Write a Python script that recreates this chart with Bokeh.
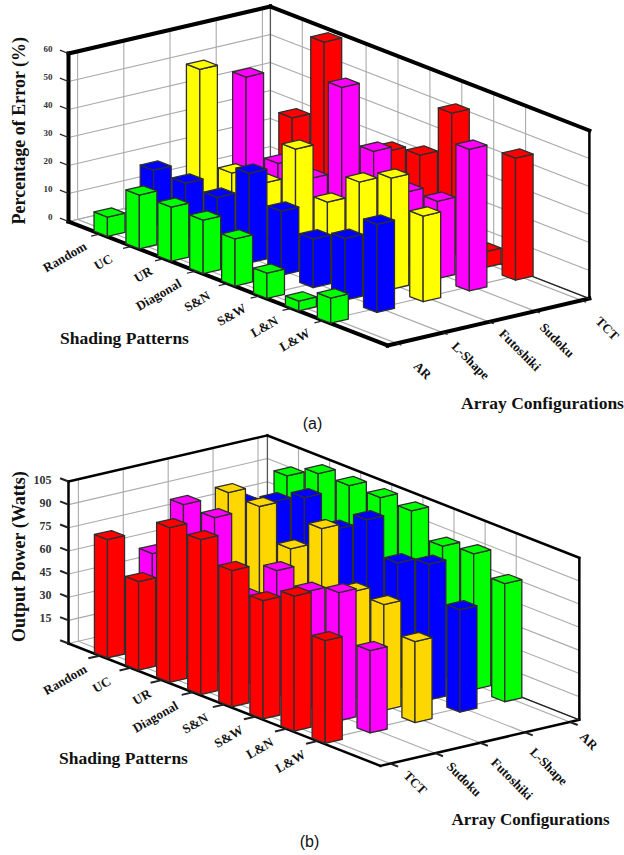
from math import radians
from bokeh.plotting import figure
from bokeh.layouts import column
from bokeh.models import Range1d
from bokeh.core.properties import value
from bokeh.embed import file_html
from bokeh.resources import INLINE

patterns = ["Random", "UC", "UR", "Diagonal", "S&N", "S&W", "L&N", "L&W"]

# (a) Percentage of error
configs_a = ["AR", "L-Shape", "Futoshiki", "Sudoku", "TCT"]
err_ar = [6.9, 19.2, 19.3, 19.1, 16.8, 9.0, 3.5, 9.0]
err_lshape = [19.8, 19.6, 19.0, 32.0, 22.9, 17.4, 22.0, 31.5]
err_futoshiki = [52.0, 19.4, 20.2, 36.8, 22.3, 33.9, 39.7, 30.6]
err_sudoku = [45.4, 19.0, 18.0, 55.0, 36.6, 26.4, 27.6, 50.6]
err_tct = [27.0, 58.5, 18.0, 28.4, 31.4, 50.8, 5.6, 43.6]
err_ticks = [0, 10, 20, 30, 40, 50, 60]

# (b) Output power
configs_b = ["TCT", "Sudoku", "Futoshiki", "L-Shape", "AR"]
pow_tct = [76.7, 57.4, 100.3, 100.4, 88.3, 76.7, 87.5, 66.6]
pow_sudoku = [60.9, 100.6, 100.0, 56.0, 81.5, 76.0, 83.0, 53.4]
pow_futoshiki = [70.0, 101.6, 100.5, 81.0, 102.0, 69.0, 68.6, 52.5]
pow_lshape = [80.0, 89.0, 99.5, 87.0, 101.0, 81.0, 88.0, 66.4]
pow_ar = [91.0, 100.4, 100.6, 100.7, 100.0, 85.0, 88.0, 76.6]
pow_ticks = [15, 30, 45, 60, 75, 90, 105]

TEXT = "#111111"
SERIF = value("Liberation Serif")


def panel(y0, y1, series, colors, configs, ticks, o):
    p = figure(width=624, height=y1 - y0, x_range=Range1d(0, 624), y_range=Range1d(y1, y0),
               x_axis_type=None, y_axis_type=None, toolbar_location=None,
               output_backend="svg", min_border=0, outline_line_color=None)
    p.xgrid.visible = False
    p.ygrid.visible = False

    Lx, Ly = o["L"]
    cx, cy = o["cat"]
    fx, fy = o["cfg"]
    off = o["off"]
    ncat = o["ncat"]
    ncfg = o["ncfg"]
    sc = o["scale"]

    def pt(t, k, v=0.0):
        return (Lx + t * cx + k * fx, Ly + t * cy + k * fy - v * sc)

    vmax = o["vmax"]
    # grid
    gx, gy = [], []

    def seg(a, b):
        gx.append([a[0], b[0]])
        gy.append([a[1], b[1]])

    for i in range(len(patterns)):
        t = i + 1
        seg(pt(t, 0), pt(t, ncfg))
        seg(pt(t, ncfg), pt(t, ncfg, vmax))
    for k in range(len(configs)):
        c = off + k
        seg(pt(0, c), pt(ncat, c))
        seg(pt(0, c), pt(0, c, vmax))
    for v in ticks:
        seg(pt(0, 0, v), pt(0, ncfg, v))
        seg(pt(0, ncfg, v), pt(ncat, ncfg, v))
    seg(pt(0, 0), pt(0, ncfg))
    seg(pt(0, ncfg), pt(ncat, ncfg))
    p.multi_line(gx, gy, line_color="#aaaaaa", line_width=o["gridw"])
    p.multi_line([[pt(0, ncfg)[0], pt(0, ncfg, vmax)[0]]], [[pt(0, ncfg)[1], pt(0, ncfg, vmax)[1]]],
                 line_color="#555555", line_width=1.3)

    # frame
    fw = o["framew"]
    frame = [
        (pt(0, 0, vmax), pt(0, 0)), (pt(0, 0), pt(ncat, 0)), (pt(ncat, 0), pt(ncat, ncfg)),
        (pt(0, 0, vmax), pt(0, ncfg, vmax)), (pt(0, ncfg, vmax), pt(ncat, ncfg, vmax)),
    ]
    p.multi_line([[a[0], b[0]] for a, b in frame], [[a[1], b[1]] for a, b in frame],
                 line_color="black", line_width=fw, line_cap="square")
    p.multi_line([[pt(ncat, ncfg, vmax)[0], pt(ncat, ncfg)[0]]], [[pt(ncat, ncfg, vmax)[1], pt(ncat, ncfg)[1]]],
                 line_color="black", line_width=o["rightw"])
    # back edge of the floor to the right wall
    p.multi_line([[pt(0, ncfg)[0], pt(ncat, ncfg)[0]]], [[pt(0, ncfg)[1], pt(ncat, ncfg)[1]]],
                 line_color="#222222", line_width=1.3)

    # ticks
    tx, ty = [], []
    for i in range(len(patterns)):
        a = pt(i + 1, 0)
        b = pt(i + 1, -o["tick_cat"])
        tx.append([a[0], b[0]])
        ty.append([a[1], b[1]])
    for k in range(len(configs)):
        a = pt(ncat, off + k)
        b = pt(ncat + o["tick_cfg"], off + k)
        tx.append([a[0], b[0]])
        ty.append([a[1], b[1]])
    for v in ticks + ([0] if 0 not in ticks else []):
        a = pt(0, 0, v)
        b = pt(-0.27, 0, v)
        tx.append([a[0], b[0]])
        ty.append([a[1], b[1]])
    p.multi_line(tx, ty, line_color="#222222", line_width=o["tickw"])

    # bars, painted from the back towards the viewer
    hc, hf = o["half_cat"], o["half_cfg"]
    xs, ys, fc = [], [], []
    for k in range(len(series) - 1, -1, -1):
        for i in range(len(patterns)):
            v = series[k][i]
            t, c = i + 1, off + k
            lft = (t + hc, c - hf)   # front vertex
            left = (t - hc, c - hf)
            right = (t + hc, c + hf)
            back = (t - hc, c + hf)
            for a, b in ([left, lft], [lft, right]):
                q = [pt(*a), pt(*b), pt(*b, v), pt(*a, v)]
                xs.append([e[0] for e in q])
                ys.append([e[1] for e in q])
                fc.append(colors[k])
            q = [pt(*left, v), pt(*lft, v), pt(*right, v), pt(*back, v)]
            xs.append([e[0] for e in q])
            ys.append([e[1] for e in q])
            fc.append(colors[k])
    p.patches(xs, ys, fill_color=fc, line_color="#2e2e2e", line_width=1.3, line_join="round")

    # value tick labels
    lab = [pt(0, 0, v) for v in ticks]
    p.text([o["val_x"]] * len(ticks), [e[1] + o["val_dy"] for e in lab], text=[str(v) for v in ticks],
           text_align="right", text_baseline="middle", text_font=SERIF, text_font_style="bold",
           text_font_size=o["val_size"], text_color="#333333")

    # category labels
    cpos = [pt(i + 1, 0) for i in range(len(patterns))]
    clx = [e[0] + d[0] for e, d in zip(cpos, o["cat_lab"])]
    cly = [e[1] + d[1] for e, d in zip(cpos, o["cat_lab"])]
    p.text(clx, cly, text=patterns,
           angle=radians(30), text_align="right", text_baseline="middle", text_font=SERIF,
           text_font_style="bold", text_font_size=o["lab_size"], text_color=TEXT)
    # configuration labels
    kpos = [pt(ncat, off + k) for k in range(len(configs))]
    p.text([e[0] + d[0] for e, d in zip(kpos, o["cfg_lab"])], [e[1] + d[1] for e, d in zip(kpos, o["cfg_lab"])],
           text=configs, angle=radians(-45), text_align="center", text_baseline="middle", text_font=SERIF,
           text_font_style="bold", text_font_size=o["lab_size"], text_color=TEXT)

    # titles
    def title(x, y, s, size, ang=0.0, font=SERIF, style="bold"):
        p.text([x], [y], text=[s], angle=radians(ang), text_align="center", text_baseline="middle",
               text_font=font, text_font_style=style, text_font_size=size, text_color=TEXT)

    title(*o["ylabel"], size=o["ysize"], ang=90)
    title(*o["xlabel"], size="17.5px")
    title(*o["zlabel"], size=o["zsize"])
    title(*o["caption"], size="16px", font=value("Liberation Sans"), style="normal")
    return p


fa = panel(0, 432, [err_ar, err_lshape, err_futoshiki, err_sudoku, err_tct],
           ["#00ff00", "#0000ff", "#ffff00", "#ff00ff", "#ff0000"], configs_a, err_ticks,
           dict(L=(68, 221), cat=(31.9, 12.4), cfg=(46.2, -10.75), off=0.197, ncat=10.0, ncfg=4.37,
                scale=2.8, vmax=60, half_cat=0.21, half_cfg=0.19, framew=4, rightw=2.5, gridw=1.1,
                tickw=1.2, tick_cat=0.2, tick_cfg=0.15, val_x=52, val_dy=-5, val_size="9px", lab_size="13px",
                cat_lab=[(-15, 11), (-21, 11), (-13, 11), (-16, 11), (-19, 11), (-15, 11), (-15, 11), (-15, 11)],
                cfg_lab=[(26, 27), (28, 28), (31, 28), (22, 29), (26, 28)],
                ylabel=(18.5, 130, "Percentage of Error (%)"), ysize="18px",
                xlabel=(124, 337, "Shading Patterns"), zlabel=(542, 402, "Array Configurations"), zsize="17.5px",
                caption=(312, 423, "(a)")))

fb = panel(432, 855, [pow_tct, pow_sudoku, pow_futoshiki, pow_lshape, pow_ar],
           ["#ff0000", "#ff00ff", "#ffd700", "#0000ff", "#00ff00"], configs_b, pow_ticks,
           dict(L=(68, 643), cat=(31.1, 12.2), cfg=(44.9, -10.4), off=0.22, ncat=10.03, ncfg=4.43,
                scale=162 / 105, vmax=105, half_cat=0.21, half_cfg=0.19, framew=2.5, rightw=2.5, gridw=1.1,
                tickw=2, tick_cat=0.25, tick_cfg=0.25, val_x=51, val_dy=-2, val_size="12px", lab_size="13px",
                cat_lab=[(-14, 12), (-21, 12), (-12, 12), (-16, 12), (-17, 12), (-13, 12), (-14, 12), (-13, 12)],
                cfg_lab=[(25, 19), (29, 26), (32, 36), (24, 34), (19, 19)],
                ylabel=(18, 556, "Output Power (Watts)"), ysize="18px",
                xlabel=(123, 757, "Shading Patterns"), zlabel=(530, 819, "Array Configurations"), zsize="17px",
                caption=(309, 841, "(b)")))

open("out.html", "w").write(file_html(column(fa, fb, spacing=0), INLINE))
